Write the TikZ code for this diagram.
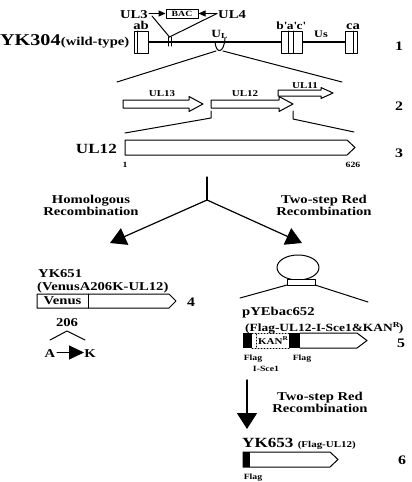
\documentclass[tikz,border=0pt]{standalone}
\usepackage{fontspec}
\setmainfont{Liberation Serif}[FakeStretch=1.22]
\usetikzlibrary{arrows.meta}
\newcommand{\figfont}[1]{\fontsize{#1}{#1}\selectfont\bfseries}
\tikzset{lbl/.style={inner sep=0pt},
	tip/.style={-{Triangle[length=7pt,width=6pt]}},
	bigtip/.style={-{Triangle[length=16pt,width=18pt]}}}

\begin{document}
\begin{tikzpicture}[line cap=round,line join=round,x=1pt,y=-1pt]
	\useasboundingbox (0,0) rectangle (412,482);
	% row 1: genome
	\node[lbl,anchor=base west,font=\figfont{16.5}] (yk304) at (0,45) {YK304};
	\node[lbl,anchor=base west,font=\figfont{12}] (wt) at (yk304.base east) {(wild-type)};
	\draw [line width=1.2pt] (148,42)-- (281,42);
	\draw [line width=1.2pt] (302,42)-- (345,42);
	\draw [line width=1.pt,fill=white] (134,31) rectangle (148,53);
	\draw [line width=1.pt] (137,31)-- (137,53);
	\draw [line width=1.pt,fill=white] (281,31) rectangle (302,53);
	\draw [line width=1.pt] (288,31)-- (288,53);
	\draw [line width=1.pt] (293,31)-- (293,53);
	\draw [line width=1.pt,fill=white] (345,31) rectangle (357,53);
	\draw [line width=1.pt] (353,31)-- (353,53);
	\node[lbl,anchor=base,font=\figfont{12}] (ab) at (141,29) {ab};
	\node[lbl,anchor=base,font=\figfont{11}] (bac') at (291,29) {b\textquotesingle a\textquotesingle c\textquotesingle};
	\node[lbl,anchor=base,font=\figfont{12}] (ca) at (353,29) {ca};
	\node[lbl,anchor=base,font=\figfont{10}] (us) at (321,37) {Us};
	\node[lbl,anchor=base,font=\figfont{11}] (ul) at (219,37) {U$_{\mathbf{L}}$};
	\node[lbl,font=\figfont{13}] (n1) at (399,46) {1};
	% BAC insertion
	\draw [line width=1.pt] (168,37)-- (168,46);
	\draw [line width=1.pt] (171,37)-- (171,46);
	\node[lbl,draw,line width=1.pt,minimum width=32pt,minimum height=9pt,font=\figfont{8}] (bac) at (182,13.5) {BAC};
	\node[lbl,anchor=base east,font=\figfont{12}] (ul3) at (148,18) {UL3};
	\node[lbl,anchor=base west,font=\figfont{12}] (ul4) at (218,18) {UL4};
	\coordinate (ul3t) at (149,13.5);
	\coordinate (ul4t) at (217,13.5);
	\coordinate (ins) at (169.5,37);
	\draw [line width=1.pt,tip] (ul3t)-- (bac.west);
	\draw [line width=1.pt,tip] (ul4t)-- (bac.east);
	\draw [line width=1.pt] (152,16)-- (ins);
	\draw [line width=1.pt] (ul4t)-- (ins);
	% U_L hook and zoom lines
	\draw [line width=1.pt] (215,42) .. controls (216,54) and (224,54) .. (225,38);
	\coordinate (hl) at (216,51);
	\coordinate (hr) at (223,51);
	\draw [line width=1.pt] (hl)-- (117,82);
	\draw [line width=1.pt] (hr)-- (342,82);
	% row 2: UL13, UL12, UL11
	\draw [line width=1.pt] (123,100)-- (189,100)-- (189,96.5)-- (203,104)-- (189,111.5)-- (189,108)-- (123,108)-- cycle;
	\draw [line width=1.pt] (211,100)-- (279,100)-- (279,96.5)-- (293,104)-- (279,111.5)-- (279,108)-- (211,108)-- cycle;
	\draw [line width=1.pt] (278,90)-- (321,90)-- (321,87.5)-- (333,93)-- (321,98.5)-- (321,96)-- (278,96)-- cycle;
	\node[lbl,anchor=base,font=\figfont{9}] (ul13) at (162,96) {UL13};
	\node[lbl,anchor=base,font=\figfont{9}] (ul12a) at (245,96) {UL12};
	\node[lbl,anchor=base,font=\figfont{9}] (ul11) at (305,88) {UL11};
	\node[lbl,font=\figfont{13}] (n2) at (399,106) {2};
	\draw [line width=1.pt] (211,111)-- (211,118)-- (125,133);
	\draw [line width=1.pt] (293,111)-- (293,119)-- (354,132);
	% row 3: UL12
	\draw [line width=1.pt] (125,140)-- (347,140)-- (355,147.5)-- (347,155)-- (125,155)-- cycle;
	\node[lbl,anchor=base east,font=\figfont{14}] (ul12) at (117,153) {UL12};
	\node[lbl,anchor=base,font=\figfont{8}] (aa1) at (125,167) {1};
	\node[lbl,anchor=base,font=\figfont{8}] (aa626) at (353,167) {626};
	\node[lbl,font=\figfont{13}] (n3) at (399,153) {3};
	% fork
	\coordinate (top) at (207,177);
	\coordinate (fork) at (207,200);
	\coordinate (ltip) at (110,243);
	\coordinate (rtip) at (302,243);
	\draw [line width=1.2pt] (top)-- (fork);
	\draw [line width=1.2pt,bigtip] (fork)-- (ltip);
	\draw [line width=1.2pt,bigtip] (fork)-- (rtip);
	\node[lbl,align=center,font=\figfont{12}] (hom) at (91,205) {Homologous\\Recombination};
	\node[lbl,align=center,font=\figfont{12}] (red1) at (324,205) {Two-step Red\\Recombination};
	% row 4: YK651
	\node[lbl,anchor=base west,font=\figfont{12}] (yk651) at (38,277) {YK651};
	\node[lbl,anchor=base west,font=\figfont{12}] (ven) at (37,290) {(VenusA206K-UL12)};
	\draw [line width=1.pt] (37,294)-- (169,294)-- (176,301)-- (169,308)-- (37,308)-- cycle;
	\draw [line width=1.pt] (88,294)-- (88,308);
	\node[lbl,font=\figfont{12}] (venus) at (62.5,301) {Venus};
	\node[lbl,font=\figfont{13}] (n4) at (191,302) {4};
	\node[lbl,anchor=base,font=\figfont{12}] (p206) at (67,326) {206};
	\draw [line width=1.pt] (50,340)-- (67,331)-- (85,340);
	\node[lbl,anchor=base,font=\figfont{12}] (resA) at (50,357) {A};
	\node[lbl,anchor=base,font=\figfont{12}] (resK) at (90,357) {K};
	\coordinate (mutA) at (57,352.5);
	\coordinate (mutK) at (84,352.5);
	\draw [line width=1.pt,-{Triangle[length=15pt,width=14pt]}] (mutA)-- (mutK);
	% plasmid
	\draw [line width=1.pt] (298,267.5) ellipse (21 and 12.5);
	\draw [line width=1.pt,fill=white] (287,279) rectangle (315,285);
	\draw [line width=1.pt] (287,285)-- (240,298);
	\draw [line width=1.pt] (315,285)-- (368,302);
	\node[lbl,anchor=base west,font=\figfont{12}] (pye) at (242,315) {pYEbac652};
	\node[lbl,anchor=base west,font=\figfont{11}] (flagkan) at (245,331) {(Flag-UL12-I-Sce1\&KAN$^{\mathbf{R}}$)};
	% row 5 construct
	\fill (243,333) rectangle (252,348);
	\draw [line width=1.pt,dotted] (252,333)-- (290,333);
	\draw [line width=1.pt,dotted] (252,348)-- (290,348);
	\draw [line width=1.pt,dotted] (256,334)-- (256,347);
	\fill (289,333) rectangle (300,348);
	\draw [line width=1.pt] (300,333)-- (357,333)-- (367,340.5)-- (357,348)-- (300,348);
	\node[lbl,anchor=base west,font=\figfont{9}] (kan) at (258,344) {KAN$^{\mathbf{R}}$};
	\node[lbl,font=\figfont{13}] (n5) at (401,343) {5};
	\node[lbl,anchor=base,font=\figfont{8}] (flag1) at (253,360) {Flag};
	\node[lbl,anchor=base,font=\figfont{8}] (flag2) at (302,360) {Flag};
	\node[lbl,anchor=base,font=\figfont{8}] (isce) at (266,371) {I-Sce1};
	% second red step
	\coordinate (dtop) at (247,380);
	\coordinate (dtip) at (247,429);
	\draw [line width=1.5pt,-{Triangle[length=16pt,width=20pt]}] (dtop)-- (dtip);
	\node[lbl,align=center,font=\figfont{12}] (red2) at (320,402) {Two-step Red\\Recombination};
	% row 6: YK653
	\node[lbl,anchor=base west,font=\figfont{14}] (yk653) at (242,447) {YK653};
	\node[lbl,anchor=base west,font=\figfont{9}] (flagul) at ([xshift=4pt]yk653.base east) {(Flag-UL12)};
	\fill (243,452) rectangle (250,467);
	\draw [line width=1.pt] (250,452)-- (330,452)-- (338,459.5)-- (330,467)-- (243,467)-- (243,452)-- (250,452);
	\node[lbl,anchor=base,font=\figfont{8}] (flag3) at (253,479) {Flag};
	\node[lbl,font=\figfont{13}] (n6) at (402,460) {6};
\end{tikzpicture}
\end{document}
